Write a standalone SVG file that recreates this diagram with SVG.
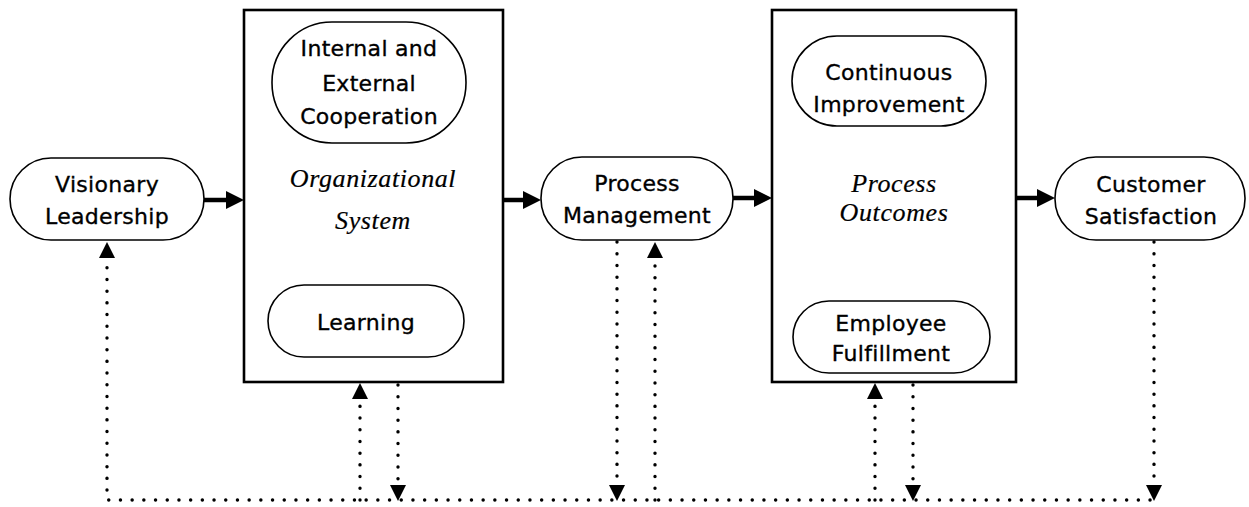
<svg xmlns="http://www.w3.org/2000/svg" width="1249" height="507" viewBox="0 0 1249 507">
<style>
.bg{fill:#fff}
.box{fill:#fff;stroke:#000;stroke-width:2.6}
.pill{fill:#fff;stroke:#000;stroke-width:1.6}
.t{font-family:"DejaVu Sans",sans-serif;font-size:22px;fill:#000;stroke:#000;stroke-width:0.35;text-anchor:middle;letter-spacing:0.3px}
.it{font-family:"Liberation Serif",serif;font-style:italic;font-size:26px;fill:#000;stroke:#000;stroke-width:0.2;text-anchor:middle;letter-spacing:0.6px}
.main{stroke:#000;stroke-width:4.5;fill:none}
.dot{stroke:#000;stroke-width:3.4;stroke-linecap:round;stroke-dasharray:0.1 11.6;fill:none}
.head{fill:#000}
</style>
<rect class="bg" width="1249" height="507"/>
<g id="visionary-leadership">
<rect class="pill" x="10" y="158" width="194" height="82" rx="41"/>
<text class="t" x="107" y="192">Visionary</text>
<text class="t" x="107" y="224">Leadership</text>
</g>
<g id="organizational-system">
<rect class="box" x="244" y="10" width="259" height="372"/>
<text class="it" x="373" y="187">Organizational</text>
<text class="it" x="373" y="229">System</text>
</g>
<g id="internal-external-cooperation">
<rect class="pill" x="272" y="22" width="194" height="121" rx="60"/>
<text class="t" x="369" y="56">Internal and</text>
<text class="t" x="369" y="91">External</text>
<text class="t" x="369" y="124">Cooperation</text>
</g>
<g id="learning">
<rect class="pill" x="268" y="285" width="196" height="72" rx="36"/>
<text class="t" x="366" y="330">Learning</text>
</g>
<g id="process-management">
<rect class="pill" x="541" y="157" width="192" height="83" rx="41"/>
<text class="t" x="637" y="191">Process</text>
<text class="t" x="637" y="223">Management</text>
</g>
<g id="process-outcomes">
<rect class="box" x="772" y="10" width="244" height="372"/>
<text class="it" x="894" y="192">Process</text>
<text class="it" x="894" y="221">Outcomes</text>
</g>
<g id="continuous-improvement">
<rect class="pill" x="792" y="36" width="194" height="90" rx="45"/>
<text class="t" x="889" y="80">Continuous</text>
<text class="t" x="889" y="112">Improvement</text>
</g>
<g id="employee-fulfillment">
<rect class="pill" x="793" y="301" width="197" height="72" rx="36"/>
<text class="t" x="891" y="331">Employee</text>
<text class="t" x="891" y="361">Fulfillment</text>
</g>
<g id="customer-satisfaction">
<rect class="pill" x="1055" y="157" width="190" height="83" rx="41"/>
<text class="t" x="1151" y="192">Customer</text>
<text class="t" x="1151" y="224">Satisfaction</text>
</g>
<g id="connectors">
<line class="main" x1="204" y1="200" x2="228" y2="200"/>
<polygon class="head" points="244,200 226,191 226,209"/>
<line class="main" x1="503" y1="200" x2="525" y2="200"/>
<polygon class="head" points="541,200 523,191 523,209"/>
<line class="main" x1="733" y1="198" x2="756" y2="198"/>
<polygon class="head" points="772,198 754,189 754,207"/>
<line class="main" x1="1016" y1="198" x2="1039" y2="198"/>
<polygon class="head" points="1055,198 1037,189 1037,207"/>
<path class="dot" d="M107,256 V500 H1154"/>
<polygon class="head" points="107,242 99,258 115,258"/>
<path class="dot" d="M360,500 V398"/>
<polygon class="head" points="360,383 352,399 368,399"/>
<path class="dot" d="M398,385 V485"/>
<polygon class="head" points="398,501 390,485 406,485"/>
<path class="dot" d="M617,242 V485"/>
<polygon class="head" points="617,501 609,485 625,485"/>
<path class="dot" d="M655,500 V257"/>
<polygon class="head" points="655,242 647,258 663,258"/>
<path class="dot" d="M875,500 V398"/>
<polygon class="head" points="875,383 867,399 883,399"/>
<path class="dot" d="M913,385 V485"/>
<polygon class="head" points="913,501 905,485 921,485"/>
<path class="dot" d="M1154,242 V485"/>
<polygon class="head" points="1154,501 1146,485 1162,485"/>
</g>
</svg>
